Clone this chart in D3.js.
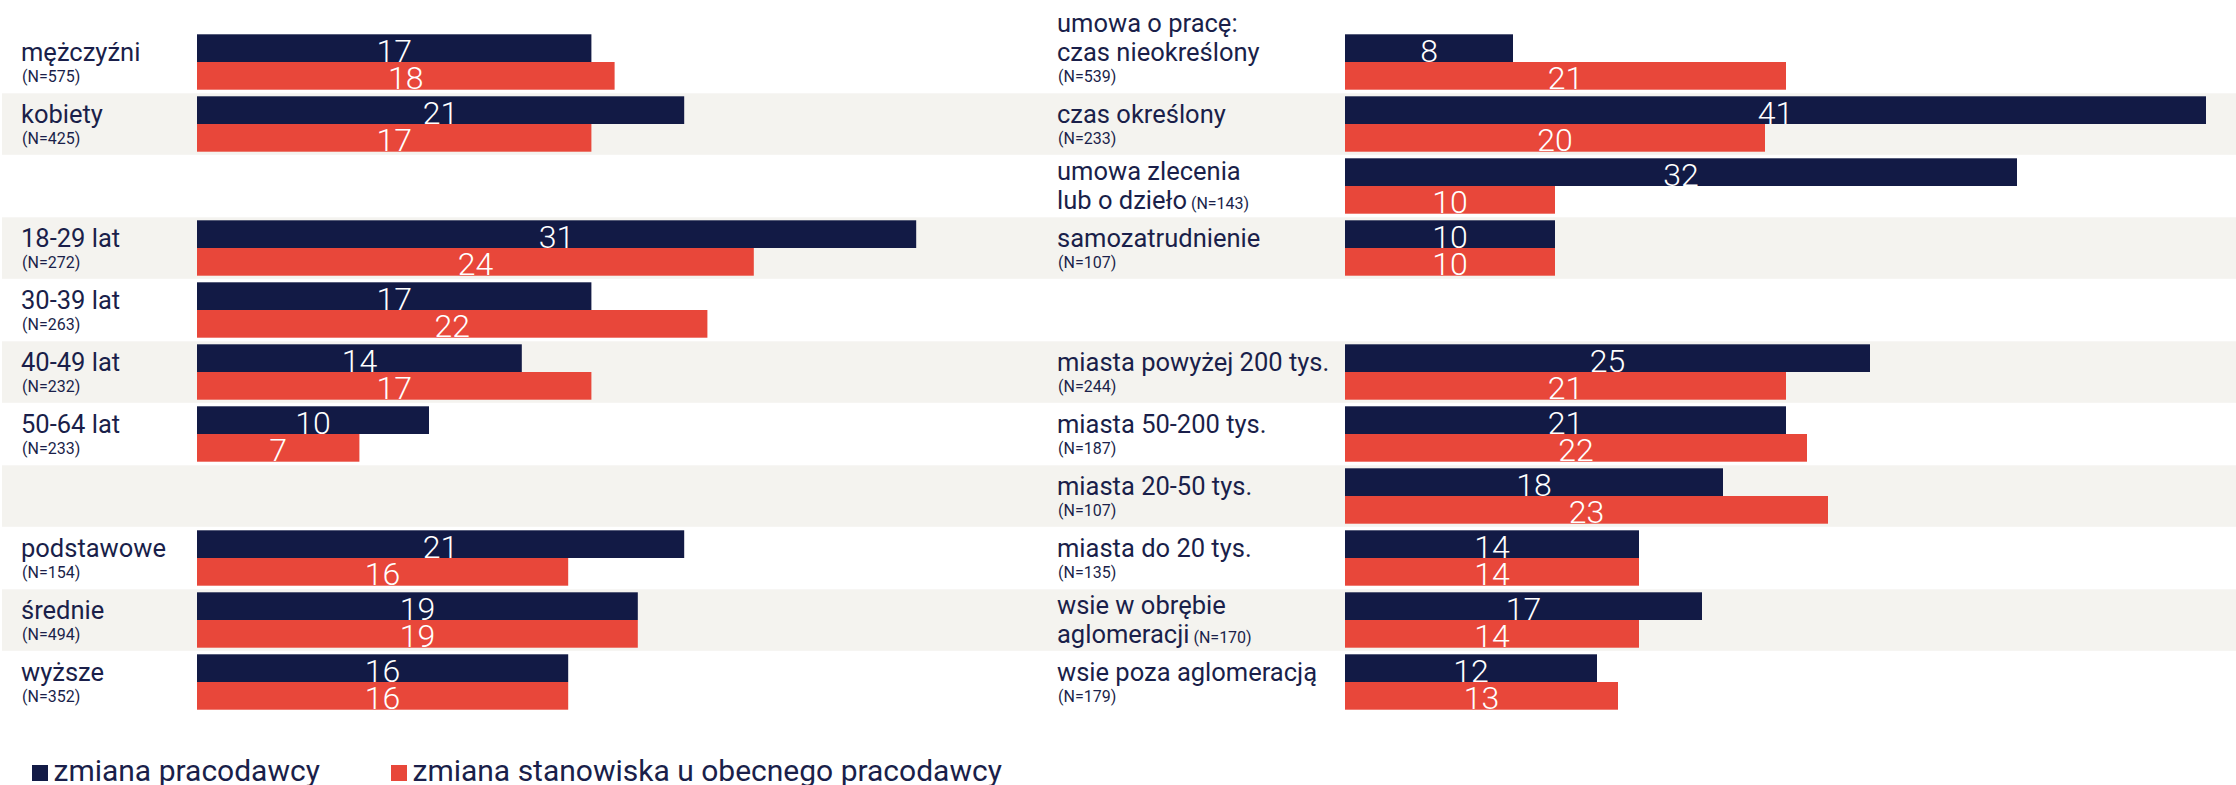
<!DOCTYPE html>
<html>
<head>
<meta charset="utf-8">
<script src="https://cdn.jsdelivr.net/npm/d3@7"></script>
<style>
  html, body { margin: 0; padding: 0; background: #fff; }
  svg { display: block; font-family: Roboto, "Noto Sans", sans-serif; }
</style>
</head>
<body>
<svg id="chart" width="2236" height="785"></svg>
<script>
// left panel: gender, age, education
const leftCategories = [["mężczyźni"], ["kobiety"], null, ["18-29 lat"], ["30-39 lat"], ["40-49 lat"], ["50-64 lat"], null, ["podstawowe"], ["średnie"], ["wyższe"]];
const leftN = [575, 425, null, 272, 263, 232, 233, null, 154, 494, 352];
const leftNInline = [false, false, false, false, false, false, false, false, false, false, false];
const leftEmployer = [17, 21, null, 31, 17, 14, 10, null, 21, 19, 16];
const leftPosition = [18, 17, null, 24, 22, 17, 7, null, 16, 19, 16];

// right panel: contract type, place of residence
const rightCategories = [["umowa o pracę:", "czas nieokreślony"], ["czas określony"], ["umowa zlecenia", "lub o dzieło"], ["samozatrudnienie"], null,
  ["miasta powyżej 200 tys."], ["miasta 50-200 tys."], ["miasta 20-50 tys."], ["miasta do 20 tys."], ["wsie w obrębie", "aglomeracji"], ["wsie poza aglomeracją"]];
const rightN = [539, 233, 143, 107, null, 244, 187, 107, 135, 170, 179];
const rightNInline = [false, false, true, false, false, false, false, false, false, true, false];
const rightEmployer = [8, 41, 32, 10, null, 25, 21, 18, 14, 17, 12];
const rightPosition = [21, 20, 10, 10, null, 21, 22, 23, 14, 14, 13];

const seriesNames = ["zmiana pracodawcy", "zmiana stanowiska u obecnego pracodawcy"];
const colors = ["#121a45", "#e8473a"];
const textColor = "#1a1f4a";
const bandFill = "#f4f3ef";

const svg = d3.select("#chart");

const y = d3.scaleBand()
  .domain(d3.range(11))
  .range([31.3, 31.3 + 62 * 11]);

const barPad = 3;
const barH = 27.7;

function drawPanel(opts) {
  const x = d3.scaleLinear().domain([0, opts.max]).range([opts.x0, opts.x1]);
  const g = svg.append("g");

  // alternating background rows
  g.selectAll(".band")
    .data(d3.range(11).filter(i => i % 2 === 1))
    .enter().append("rect")
    .attr("class", "band")
    .attr("x", opts.bandX0)
    .attr("y", d => y(d))
    .attr("width", opts.bandX1 - opts.bandX0)
    .attr("height", y.bandwidth() - 0.5)
    .style("fill", bandFill);

  const rows = d3.range(11).filter(i => opts.cats[i] !== null);

  // category labels
  rows.forEach(function (i) {
    const lines = opts.cats[i];
    const top = y(i);
    if (opts.inline[i]) {
      lines.forEach(function (line, j) {
        const t = g.append("text")
          .attr("x", opts.labelX)
          .attr("y", top + 24.5 + 29 * j)
          .style("fill", textColor)
          .style("font-size", "25.5px");
        t.append("tspan").text(line);
        if (j === lines.length - 1) {
          t.append("tspan").style("font-size", "16px").text(" (N=" + opts.n[i] + ")");
        }
      });
    } else {
      const last = top + 29.5;
      lines.forEach(function (line, j) {
        g.append("text")
          .attr("x", opts.labelX)
          .attr("y", last - 29.3 * (lines.length - 1 - j))
          .style("fill", textColor)
          .style("font-size", "25.5px")
          .text(line);
      });
      g.append("text")
        .attr("x", opts.labelX + 1)
        .attr("y", last + 21)
        .style("fill", textColor)
        .style("font-size", "16px")
        .text("(N=" + opts.n[i] + ")");
    }
  });

  [opts.employer, opts.position].forEach(function (vals, s) {
    g.selectAll(".bar" + s)
      .data(rows)
      .enter().append("rect")
      .attr("class", "bar" + s)
      .attr("x", x(0))
      .attr("y", i => y(i) + barPad + s * barH)
      .attr("width", i => x(vals[i]) - x(0))
      .attr("height", barH)
      .style("fill", colors[s]);
  });

  [opts.employer, opts.position].forEach(function (vals, s) {
    g.selectAll(".value" + s)
      .data(rows)
      .enter().append("text")
      .attr("class", "value" + s)
      .attr("x", i => x(vals[i] / 2))
      .attr("y", i => y(i) + barPad + (s + 1) * barH - 0.5)
      .attr("text-anchor", "middle")
      .style("fill", "#fff")
      .style("font-size", "32px")
      .style("font-weight", 300)
      .text(i => vals[i]);
  });
}

drawPanel({
  cats: leftCategories, n: leftN, inline: leftNInline,
  employer: leftEmployer, position: leftPosition,
  max: 31, x0: 197, x1: 197 + 31 * 23.2,
  labelX: 21, bandX0: 2, bandX1: 1046
});

drawPanel({
  cats: rightCategories, n: rightN, inline: rightNInline,
  employer: rightEmployer, position: rightPosition,
  max: 41, x0: 1345, x1: 1345 + 41 * 21,
  labelX: 1057, bandX0: 1046, bandX1: 2236
});

// legend
const legendX = [32, 391];
const legend = svg.append("g");
seriesNames.forEach(function (name, i) {
  legend.append("rect")
    .attr("x", legendX[i])
    .attr("y", 765)
    .attr("width", 16)
    .attr("height", 16)
    .style("fill", colors[i]);
  legend.append("text")
    .attr("x", legendX[i] + 21.5)
    .attr("y", 781)
    .style("fill", textColor)
    .style("font-size", "30px")
    .text(name);
});
</script>
</body>
</html>
